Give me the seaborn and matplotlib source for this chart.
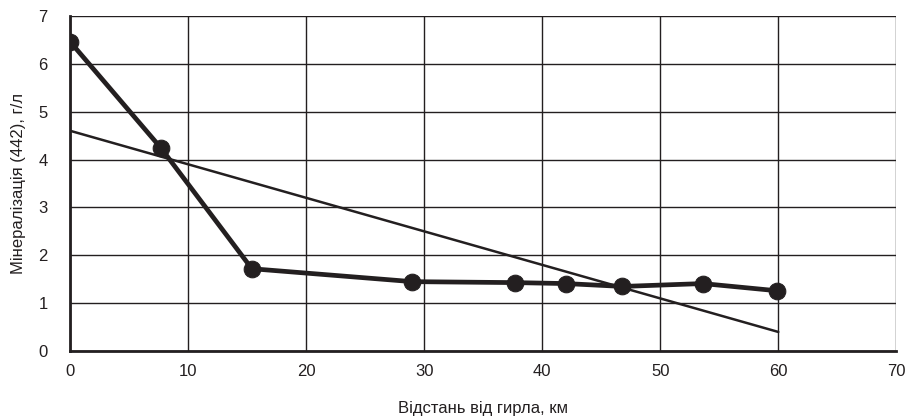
import matplotlib
matplotlib.use("Agg")
import matplotlib.pyplot as plt
import seaborn as sns
import pandas as pd

distance_km = [0, 7.7, 15.4, 29.0, 37.7, 42.0, 46.8, 53.6, 59.9]
mineralization = [6.46, 4.24, 1.72, 1.45, 1.43, 1.41, 1.35, 1.41, 1.26]
trend_x = [0, 60]
trend_y = [4.6, 0.4]
x_ticks = [0, 10, 20, 30, 40, 50, 60, 70]
y_ticks = [0, 1, 2, 3, 4, 5, 6, 7]

sns.set_style("white")
plt.rcParams['font.family'] = ['Liberation Sans', 'DejaVu Sans']

fig = plt.figure(figsize=(9.1, 4.16), dpi=100)
ax = fig.add_axes([0.077, 0.156, 0.908, 0.806])

df = pd.DataFrame({"x": distance_km, "y": mineralization})
tdf = pd.DataFrame({"x": trend_x, "y": trend_y})

sns.lineplot(data=tdf, x="x", y="y", ax=ax, color="#231f20", linewidth=1.8, zorder=3)
sns.lineplot(data=df, x="x", y="y", ax=ax, color="#231f20", linewidth=3.4,
             marker="o", markersize=12, markeredgecolor="#231f20",
             markerfacecolor="#231f20", zorder=4)

ax.set_xlim(0, 70)
ax.set_ylim(0, 7)
ax.set_xticks(x_ticks)
ax.set_yticks(y_ticks)
ax.set_xticklabels([str(v) for v in x_ticks], fontsize=12, color="#231f20")
ax.set_yticklabels([str(v) for v in y_ticks], fontsize=12, color="#231f20")
ax.grid(True, color="#231f20", linewidth=1.0)
ax.set_axisbelow(True)
for s in ["top", "right"]:
    ax.spines[s].set_visible(False)
for s in ["left", "bottom"]:
    ax.spines[s].set_color("#231f20")
    ax.spines[s].set_linewidth(2.0)
ax.tick_params(axis="x", length=0, pad=9)
ax.tick_params(axis="y", length=0, pad=16)
ax.set_xlabel("Відстань від гирла, км", fontsize=12, color="#231f20", labelpad=16)
ax.set_ylabel("Мінералізація (442), г/л", fontsize=12, color="#231f20", labelpad=9)

fig.savefig("out.png", dpi=100)
